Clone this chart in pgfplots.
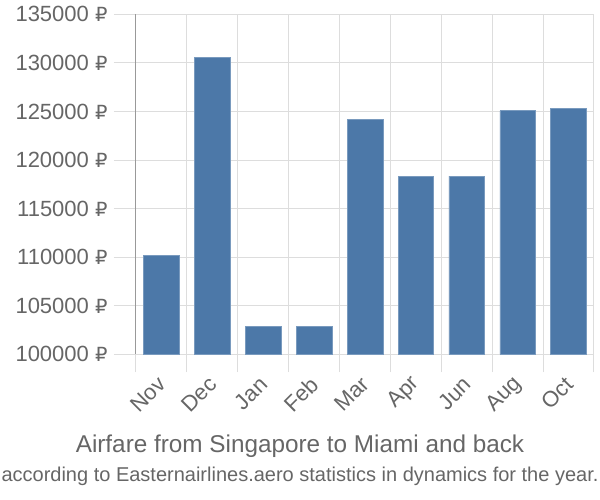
\documentclass[border=0pt]{standalone}
\usepackage{pgfplots}
\pgfplotsset{compat=1.18}
\usepackage{fontspec}
\setmainfont{Liberation Sans}
\newfontfamily\dvs{DejaVu Sans}
\newcommand{\rub}{{\dvs\fontsize{19.5}{19.5}\selectfont ₽}}
\definecolor{barc}{HTML}{4C78A8}
\definecolor{gridc}{HTML}{DDDDDD}
\definecolor{txt}{HTML}{666666}
\begin{document}
\begin{tikzpicture}
\useasboundingbox (-136pt,-145.7pt) rectangle (464pt,354.3pt);
\begin{axis}[
  at={(0pt,0pt)}, anchor=south west,
  scale only axis, width=458pt, height=340pt,
  xmin=-0.5, xmax=8.5, ymin=100000, ymax=135000,
  scaled y ticks=false,
  axis lines*=left,
  x axis line style={gridc, line width=1pt},
  y axis line style={black!40, line width=1pt},
  xtick={0,...,8},
  xticklabels={Nov,Dec,Jan,Feb,Mar,Apr,Jun,Aug,Oct},
  minor xtick={-0.5,0.5,...,8.5},
  ytick={100000,105000,...,135000},
  yticklabels={100000 \rub,105000 \rub,110000 \rub,115000 \rub,120000 \rub,125000 \rub,130000 \rub,135000 \rub},
  ymajorgrids, xminorgrids,
  grid style={gridc, line width=1pt},
  tick align=outside,
  major tick length=22pt, minor tick length=18pt,
  tick style={gridc, line width=1pt},
  every major x tick/.append style={draw=none},
  ticklabel style={font=\fontsize{22}{22}\selectfont, text=txt},
  yticklabel style={xshift=-3pt},
  xticklabel style={xshift=3pt, yshift=-2pt, rotate=45, anchor=east},
  ybar, bar width=0.7, bar shift=0pt,
]
\addplot[fill=barc, draw=barc!75!white, line width=0.6pt] coordinates {
(0,110150) (1,130570) (2,102900) (3,102900) (4,124220) (5,118350) (6,118350) (7,125070) (8,125350)};
\end{axis}
\node[anchor=base, text=txt, font=\fontsize{24.3}{24.3}\selectfont] at (164pt,-98.7pt) {Airfare from Singapore to Miami and back};
\node[anchor=base, text=txt, font=\fontsize{20}{20}\selectfont, inner sep=0pt] at (164pt,-127.7pt) {according to Easternairlines.aero statistics in dynamics for the year.};
\end{tikzpicture}
\end{document}
